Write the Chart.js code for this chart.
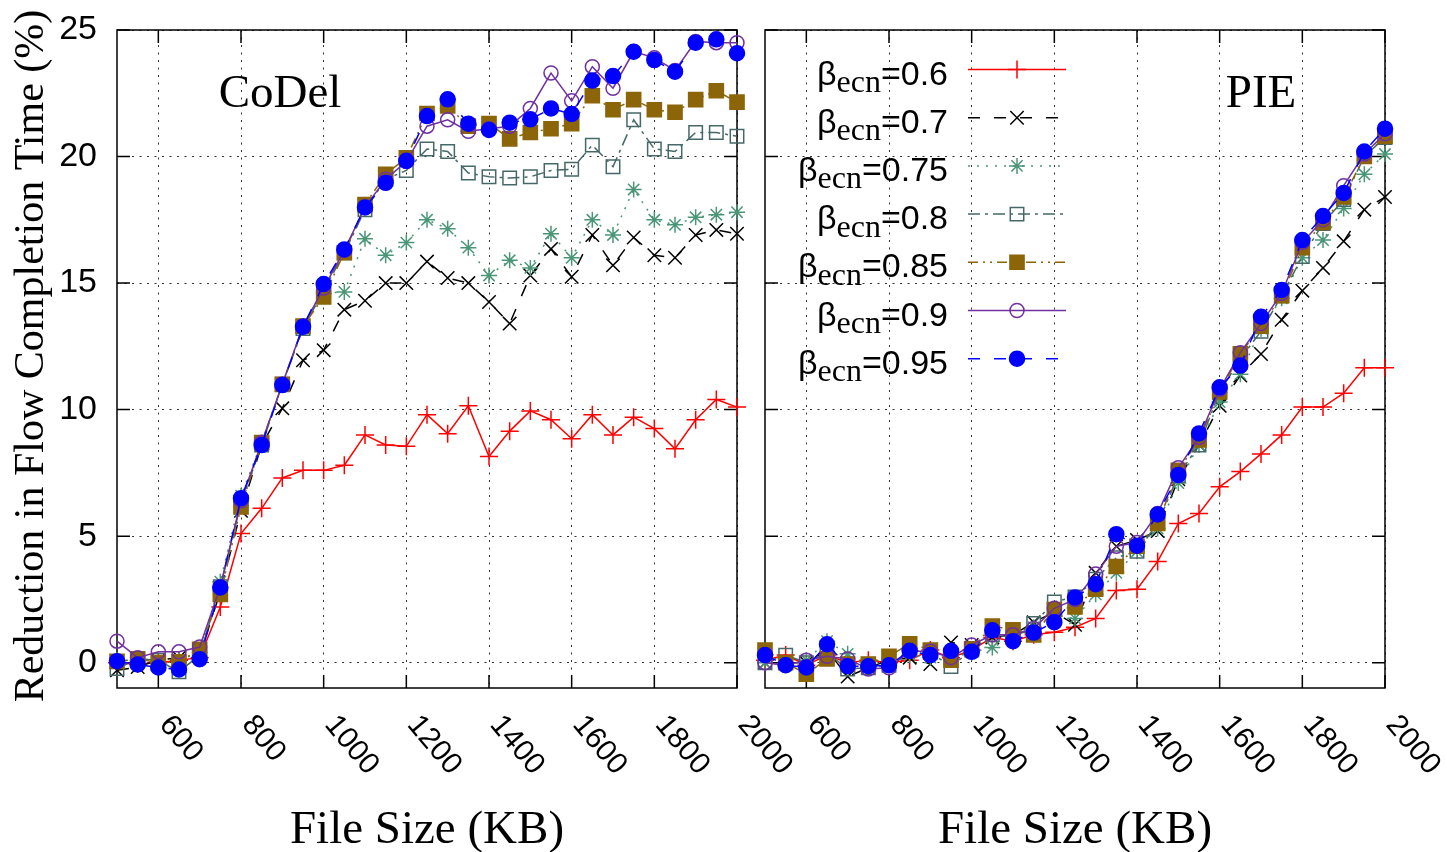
<!DOCTYPE html>
<html>
<head>
<meta charset="utf-8">
<title>FCT reduction – CoDel vs PIE</title>
<script src="https://cdn.jsdelivr.net/npm/chart.js@4.4.1/dist/chart.umd.min.js"></script>
<style>
  html, body { margin: 0; padding: 0; background: #fff; }
  #wrap { position: relative; width: 1447px; height: 852px; }
  #wrap canvas { position: absolute; left: 0; top: 0; }
</style>
</head>
<body>
<div id="wrap">
  <canvas id="chartCodel" width="1447" height="852"></canvas>
  <canvas id="chartPie" width="1447" height="852"></canvas>
</div>
<script>
// ------------------------------------------------------------
// data
// ------------------------------------------------------------
const fileSizes = [500, 550, 600, 650, 700, 750, 800, 850, 900, 950,
  1000, 1050, 1100, 1150, 1200, 1250, 1300, 1350, 1400, 1450,
  1500, 1550, 1600, 1650, 1700, 1750, 1800, 1850, 1900, 1950, 2000];

const betaValues = ['0.6', '0.7', '0.75', '0.8', '0.85', '0.9', '0.95'];
const xTickValues = [600, 800, 1000, 1200, 1400, 1600, 1800, 2000];
const yTickValues = [0, 5, 10, 15, 20, 25];

// CoDel, reduction in FCT (%)
const codel06  = [0.0, -0.05, 0.0, 0.1, 0.2, 2.2, 5.1, 6.1, 7.3, 7.6, 7.6, 7.8, 9.0, 8.6, 8.55, 9.8, 9.05, 10.15, 8.15, 9.15, 9.95, 9.6, 8.85, 9.8, 9.0, 9.7, 9.25, 8.45, 9.6, 10.4, 10.1];
const codel07  = [-0.3, -0.17, 0.1, 0.2, 0.3, 2.8, 6.0, 8.6, 10.05, 11.95, 12.35, 13.95, 14.3, 15.0, 15.0, 15.85, 15.2, 15.0, 14.25, 13.4, 15.3, 16.35, 15.25, 16.9, 15.7, 16.8, 16.1, 16.0, 16.9, 17.1, 16.95];
const codel075 = [0.1, 0.1, 0.0, 0.1, 0.4, 3.2, 6.6, 8.7, 11.0, 13.3, 14.6, 14.65, 16.75, 16.1, 16.6, 17.5, 17.15, 16.4, 15.3, 15.9, 15.6, 16.95, 16.0, 17.5, 16.9, 18.7, 17.5, 17.3, 17.6, 17.7, 17.8];
const codel08  = [-0.23, 0.15, 0.1, -0.36, 0.3, 3.0, 6.3, 8.6, 11.0, 13.2, 14.7, 16.2, 17.9, 19.1, 19.45, 20.3, 20.2, 19.35, 19.2, 19.15, 19.2, 19.45, 19.5, 20.45, 19.6, 21.45, 20.3, 20.2, 20.95, 20.95, 20.8];
const codel085 = [0.05, 0.15, 0.0, 0.03, 0.53, 2.7, 6.15, 8.7, 11.0, 13.3, 14.45, 16.2, 18.1, 19.3, 19.95, 21.7, 22.0, 21.2, 21.3, 20.7, 20.95, 21.1, 21.3, 22.4, 21.85, 22.25, 21.85, 21.75, 22.25, 22.6, 22.15];
const codel09  = [0.85, 0.2, 0.43, 0.43, 0.62, 3.0, 6.4, 8.7, 11.0, 13.3, 14.8, 16.3, 18.0, 19.1, 19.8, 21.2, 21.45, 21.0, 21.1, 21.2, 21.9, 23.3, 22.2, 23.55, 22.7, 24.15, 23.9, 23.4, 24.55, 24.5, 24.5];
const codel095 = [0.06, -0.07, -0.19, -0.27, 0.14, 2.97, 6.5, 8.6, 10.97, 13.27, 14.96, 16.33, 17.99, 18.96, 19.83, 21.6, 22.26, 21.3, 21.05, 21.34, 21.47, 21.9, 21.68, 23.0, 23.18, 24.14, 23.81, 23.35, 24.5, 24.63, 24.08];

// PIE, reduction in FCT (%)
const pie06  = [0.1, 0.3, -0.1, 0.3, 0.0, 0.1, 0.0, 0.1, 0.5, 0.2, 0.5, 1.0, 0.85, 1.1, 1.2, 1.4, 1.75, 2.85, 2.9, 4.0, 5.5, 5.9, 6.95, 7.55, 8.25, 9.0, 10.1, 10.1, 10.65, 11.65, 11.65];
const pie07  = [0.0, 0.0, 0.0, 0.5, -0.55, -0.2, 0.1, 0.2, -0.05, 0.8, 0.7, 1.0, 1.1, 1.6, 2.0, 1.5, 3.55, 4.6, 4.85, 5.2, 7.25, 8.6, 10.15, 11.35, 12.2, 13.55, 14.7, 15.6, 16.65, 17.9, 18.4];
const pie075 = [0.0, -0.1, 0.1, 0.85, 0.35, -0.2, -0.1, 0.3, 0.2, 0.2, 0.4, 0.6, 1.0, 1.4, 1.9, 1.75, 2.7, 3.55, 4.4, 5.3, 7.1, 8.6, 10.3, 11.4, 13.2, 14.4, 16.0, 16.7, 17.95, 19.3, 20.1];
const pie08  = [0.0, 0.3, 0.0, 0.4, -0.25, -0.2, -0.1, 0.5, 0.4, -0.15, 0.5, 1.1, 1.0, 1.55, 2.4, 2.6, 3.3, 4.15, 4.4, 5.5, 7.4, 8.6, 10.7, 12.0, 13.1, 14.5, 16.05, 17.35, 18.3, 20.0, 20.75];
const pie085 = [0.5, 0.0, -0.45, 0.15, -0.05, -0.05, 0.25, 0.75, 0.5, 0.1, 0.55, 1.45, 1.3, 1.1, 2.1, 2.2, 2.9, 3.8, 4.6, 5.5, 7.6, 8.8, 10.7, 12.2, 13.3, 14.5, 16.4, 17.4, 18.4, 20.0, 20.8];
const pie09  = [0.0, -0.1, 0.1, 0.25, 0.15, -0.25, -0.2, 0.45, 0.45, 0.2, 0.7, 1.1, 1.1, 1.35, 2.15, 2.5, 3.5, 4.6, 4.75, 5.9, 7.7, 8.9, 10.8, 12.25, 13.4, 14.6, 16.6, 17.5, 18.85, 20.1, 20.9];
const pie095 = [0.3, -0.1, -0.19, 0.73, -0.14, -0.14, -0.1, 0.47, 0.3, 0.47, 0.43, 1.28, 0.85, 1.19, 1.6, 2.58, 3.1, 5.08, 4.62, 5.86, 7.42, 9.06, 10.88, 11.74, 13.67, 14.73, 16.7, 17.65, 18.56, 20.2, 21.1];

// ------------------------------------------------------------
// styles (gnuplot-like line types)
// ------------------------------------------------------------
const seriesStyles = [
  { color: '#ff0000', dash: [],               point: 'cross',    radius: 9,   fill: false },
  { color: '#000000', dash: [12, 14],         point: 'crossRot', radius: 9.5, fill: false },
  { color: '#4a9677', dash: [2, 7],           point: 'star',     radius: 8,   fill: false },
  { color: '#466868', dash: [12, 5, 3, 5],    point: 'rect',     radius: 9.5, fill: false },
  { color: '#8b6508', dash: [10, 5, 2, 5, 2, 5], point: 'rect',  radius: 10,  fill: true },
  { color: '#7030a0', dash: [],               point: 'circle',   radius: 7,   fill: false },
  { color: '#0000ff', dash: [12, 14],         point: 'circle',   radius: 7.5, fill: true }
];

const SANS = '"Liberation Sans", Arial, sans-serif';
const SERIF = '"Liberation Serif", "Times New Roman", serif';
const TICK_LEN = 13;

// ------------------------------------------------------------
// helpers
// ------------------------------------------------------------
function drawMarker(ctx, st, x, y) {
  const r = st.radius;
  ctx.save();
  ctx.setLineDash([]);
  ctx.lineWidth = 1.5;
  ctx.strokeStyle = st.color;
  ctx.fillStyle = st.color;
  ctx.beginPath();
  if (st.point === 'cross' || st.point === 'star') {
    ctx.moveTo(x - r, y); ctx.lineTo(x + r, y);
    ctx.moveTo(x, y - r); ctx.lineTo(x, y + r);
  }
  if (st.point === 'crossRot' || st.point === 'star') {
    const d = r * Math.SQRT1_2;
    ctx.moveTo(x - d, y - d); ctx.lineTo(x + d, y + d);
    ctx.moveTo(x - d, y + d); ctx.lineTo(x + d, y - d);
  }
  if (st.point === 'rect') {
    const s = r * Math.SQRT1_2;
    ctx.rect(x - s, y - s, 2 * s, 2 * s);
  }
  if (st.point === 'circle') {
    ctx.arc(x, y, r, 0, Math.PI * 2);
  }
  if (st.fill) ctx.fill();
  ctx.stroke();
  ctx.restore();
}

// box + inward tick marks on all four sides
const framePlugin = {
  id: 'frame',
  beforeDatasetsDraw(chart) {
    const { ctx, chartArea: a, scales } = chart;
    ctx.save();
    ctx.strokeStyle = '#000';
    ctx.lineWidth = 1.5;
    ctx.setLineDash([]);
    ctx.strokeRect(a.left, a.top, a.right - a.left, a.bottom - a.top);
    ctx.beginPath();
    yTickValues.forEach(v => {
      const py = scales.y.getPixelForValue(v);
      ctx.moveTo(a.left, py); ctx.lineTo(a.left + TICK_LEN, py);
      ctx.moveTo(a.right, py); ctx.lineTo(a.right - TICK_LEN, py);
    });
    xTickValues.forEach(v => {
      const px = scales.x.getPixelForValue(v);
      ctx.moveTo(px, a.bottom); ctx.lineTo(px, a.bottom - TICK_LEN);
      ctx.moveTo(px, a.top); ctx.lineTo(px, a.top + TICK_LEN);
    });
    ctx.stroke();
    ctx.restore();
  }
};

// slanted x tick labels, axis titles, panel name, legend
const textPlugin = {
  id: 'panelText',
  afterDraw(chart, args, opts) {
    const { ctx, chartArea: a, scales } = chart;
    ctx.save();
    ctx.fillStyle = '#000';

    // x tick labels, reading downwards to the right
    ctx.font = '30px ' + SANS;
    ctx.textAlign = 'left';
    ctx.textBaseline = 'alphabetic';
    xTickValues.forEach(v => {
      const px = scales.x.getPixelForValue(v);
      ctx.save();
      ctx.translate(px, a.bottom + 37);
      ctx.rotate(50 * Math.PI / 180);
      ctx.fillText(String(v), 0, 0);
      ctx.restore();
    });

    // x axis title
    ctx.font = '47px ' + SERIF;
    ctx.textAlign = 'center';
    ctx.fillText('File Size (KB)', (a.left + a.right) / 2, 843);

    // panel name
    ctx.fillText(opts.name, a.left + opts.nameOffset, 107);

    // y axis title (left panel only)
    if (opts.yTitle) {
      ctx.save();
      ctx.font = '42px ' + SERIF;
      ctx.translate(43, 356);
      ctx.rotate(-Math.PI / 2);
      ctx.fillText(opts.yTitle, 0, 0);
      ctx.restore();
    }

    if (opts.legend) drawLegend(ctx, a);
    ctx.restore();
  }
};

function drawLegend(ctx, a) {
  const textRight = a.left + 183;
  const lineStart = a.left + 203;
  const lineEnd = a.left + 301;
  const markX = a.left + 252;
  const rowTop = a.top + 39.5;
  const rowGap = 48.2;

  betaValues.forEach((b, i) => {
    const st = seriesStyles[i];
    const y = rowTop + i * rowGap;

    ctx.font = '34px ' + SANS;
    const wBeta = ctx.measureText('β').width;
    const tail = '=' + b;
    const wTail = ctx.measureText(tail).width;
    ctx.font = '32px ' + SERIF;
    const wSub = ctx.measureText('ecn').width;
    let x = textRight - (wBeta + wSub + wTail);

    ctx.fillStyle = '#000';
    ctx.textAlign = 'left';
    ctx.textBaseline = 'alphabetic';
    ctx.font = '34px ' + SANS;
    ctx.fillText('β', x, y + 15);
    x += wBeta;
    ctx.font = '32px ' + SERIF;
    ctx.fillText('ecn', x, y + 22.5);
    x += wSub;
    ctx.font = '34px ' + SANS;
    ctx.fillText(tail, x, y + 15);

    // sample line + marker
    ctx.save();
    ctx.strokeStyle = st.color;
    ctx.lineWidth = 1.5;
    ctx.setLineDash(st.dash);
    ctx.beginPath();
    ctx.moveTo(lineStart, y);
    ctx.lineTo(lineEnd, y);
    ctx.stroke();
    ctx.restore();
    drawMarker(ctx, st, markX, y);
  });
}

// ------------------------------------------------------------
// charts
// ------------------------------------------------------------
function buildPanel(canvasId, series, panel) {
  const datasets = series.map((vals, i) => {
    const st = seriesStyles[i];
    return {
      label: 'βecn=' + betaValues[i],
      data: fileSizes.map((x, j) => ({ x, y: vals[j] })),
      borderColor: st.color,
      backgroundColor: st.fill ? st.color : 'rgba(0,0,0,0)',
      borderWidth: 1.5,
      borderDash: st.dash,
      pointStyle: st.point,
      pointRadius: st.radius,
      pointBorderWidth: 1.5,
      pointBorderColor: st.color,
      pointBackgroundColor: st.fill ? st.color : 'rgba(0,0,0,0)',
      tension: 0,
      clip: false,
      order: series.length - i   // later series drawn on top
    };
  });

  const gridOpts = { color: '#333', lineWidth: 1, drawTicks: false };
  const borderOpts = { display: false, dash: [2, 5.5] };

  return new Chart(document.getElementById(canvasId), {
    type: 'line',
    data: { datasets },
    options: {
      responsive: false,
      animation: false,
      devicePixelRatio: 1,
      events: [],
      layout: { padding: panel.padding },
      plugins: {
        legend: { display: false },
        tooltip: { enabled: false },
        panelText: panel.text
      },
      scales: {
        x: {
          type: 'linear',
          min: 500,
          max: 2000,
          afterBuildTicks: s => { s.ticks = xTickValues.map(v => ({ value: v })); },
          afterFit: s => { s.height = 164; s.paddingLeft = 0; s.paddingRight = 0; },
          ticks: { display: false },
          grid: gridOpts,
          border: borderOpts
        },
        y: {
          min: -1,
          max: 25,
          afterBuildTicks: s => { s.ticks = yTickValues.map(v => ({ value: v })); },
          afterFit: s => { s.width = panel.yWidth; s.paddingTop = 0; s.paddingBottom = 0; },
          ticks: {
            display: panel.yLabels,
            color: '#000',
            padding: 20,
            font: { family: SANS, size: 34 }
          },
          grid: gridOpts,
          border: borderOpts
        }
      }
    },
    plugins: [framePlugin, textPlugin]
  });
}

buildPanel('chartCodel',
  [codel06, codel07, codel075, codel08, codel085, codel09, codel095],
  {
    padding: { left: 0, right: 710, top: 30, bottom: 0 },
    yWidth: 117,
    yLabels: true,
    text: { name: 'CoDel', nameOffset: 163, yTitle: 'Reduction in Flow Completion Time (%)', legend: false }
  });

buildPanel('chartPie',
  [pie06, pie07, pie075, pie08, pie085, pie09, pie095],
  {
    padding: { left: 745, right: 62, top: 30, bottom: 0 },
    yWidth: 20,
    yLabels: false,
    text: { name: 'PIE', nameOffset: 496, yTitle: null, legend: true }
  });
</script>
</body>
</html>
